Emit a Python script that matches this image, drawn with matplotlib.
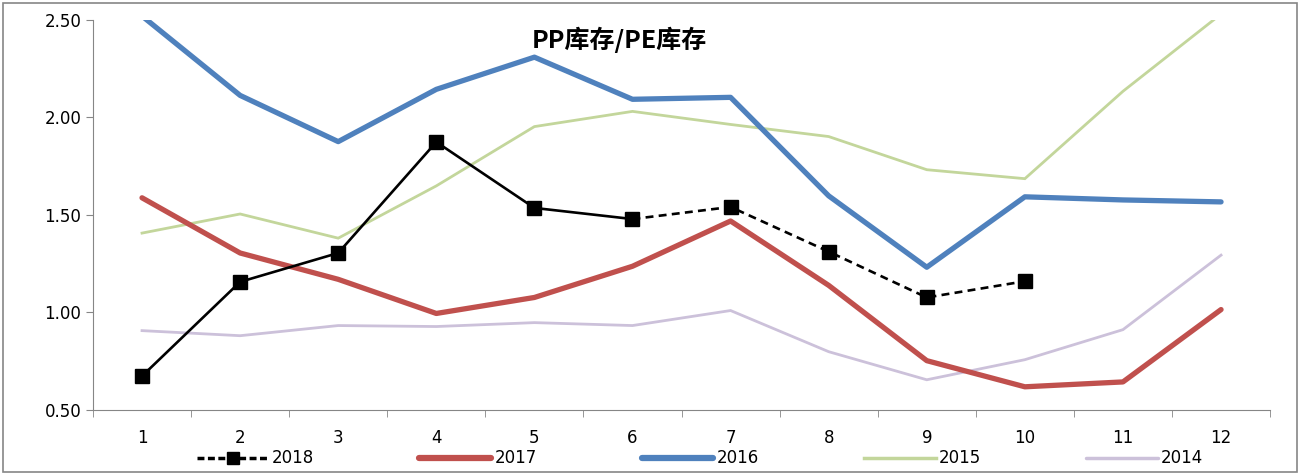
import numpy as np
import matplotlib.pyplot as plt
from matplotlib.lines import Line2D

months = [1, 2, 3, 4, 5, 6, 7, 8, 9, 10, 11, 12]

y2018 = [0.674, 1.157, 1.305, 1.874, 1.536, 1.479, 1.541, 1.312, 1.077, 1.160]
y2018_solid_end = 6  # solid up to month 6, dashed after
y2017 = [1.588, 1.305, 1.170, 0.995, 1.077, 1.237, 1.469, 1.139, 0.753, 0.619, 0.644, 1.015]
y2016 = [2.52, 2.113, 1.876, 2.144, 2.309, 2.093, 2.103, 1.598, 1.232, 1.593, 1.577, 1.567]
y2015 = [1.407, 1.505, 1.381, 1.649, 1.953, 2.031, 1.964, 1.902, 1.732, 1.686, 2.134, 2.53]
y2014 = [0.907, 0.881, 0.933, 0.928, 0.948, 0.933, 1.010, 0.799, 0.655, 0.758, 0.912, 1.294]

c2017 = "#C0504D"
c2016 = "#4F81BD"
c2015 = "#C3D69B"
c2014 = "#CCC1DA"

fig = plt.figure(figsize=(13.04, 4.74), dpi=100)
ax = fig.add_axes([0.0713, 0.135, 0.9027, 0.823])

ax.plot(months, y2014, color=c2014, lw=2.0, solid_joinstyle="miter")
ax.plot(months, y2015, color=c2015, lw=2.0, solid_joinstyle="miter")
ax.plot(months, y2016, color=c2016, lw=3.8, solid_capstyle="round")
ax.plot(months, y2017, color=c2017, lw=3.8, solid_capstyle="round")

x18 = months[:len(y2018)]
k = y2018_solid_end
ax.plot(x18[:k], y2018[:k], color="black", lw=1.9)
ax.plot(x18[k - 1:], y2018[k - 1:], color="black", lw=1.9, ls=(0, (3, 2)))
ax.plot(x18, y2018, ls="none", marker="s", ms=10, color="black")

ax.set_xlim(0.5, 12.5)
ax.set_ylim(0.5, 2.5)
ax.set_yticks([0.5, 1.0, 1.5, 2.0, 2.5])
ax.set_yticklabels(["%.2f" % v for v in [0.5, 1.0, 1.5, 2.0, 2.5]], fontsize=12)
ax.set_xticks(months)
ax.set_xticklabels([str(m) for m in months], fontsize=12)
ax.set_xticks(np.arange(0.5, 13, 1), minor=True)
ax.tick_params(axis="x", which="major", length=0, pad=14)
ax.tick_params(axis="x", which="minor", length=5, color="#868686")
ax.tick_params(axis="y", length=5, color="#868686")
for s in ["top", "right"]:
    ax.spines[s].set_visible(False)
for s in ["left", "bottom"]:
    ax.spines[s].set_color("#868686")

ax.text(0.447, 0.95, "PP库存/PE库存", transform=ax.transAxes, ha="center", va="center",
        fontsize=18, fontweight="bold", family=["Noto Sans CJK SC", "DejaVu Sans"])

handles = [
    Line2D([], [], color="black", lw=2.5, ls=(0, (2, 1)), marker="s", ms=9),
    Line2D([], [], color=c2017, lw=4.5, solid_capstyle="round"),
    Line2D([], [], color=c2016, lw=4.5, solid_capstyle="round"),
    Line2D([], [], color=c2015, lw=2.5),
    Line2D([], [], color=c2014, lw=2.5, solid_capstyle="round"),
]
labels = ["2018", "2017", "2016", "2015", "2014"]
fig.legend(handles, labels, loc="center", bbox_to_anchor=(0.537, 0.033), ncol=5,
           frameon=False, fontsize=12, handlelength=4.3, columnspacing=6.3,
           handletextpad=0.2)

fig.patches.append(plt.Rectangle((0.002, 0.004), 0.993, 0.99, transform=fig.transFigure,
                                 fill=False, edgecolor="#868686", lw=1.2))

fig.savefig("out.png", dpi=100)
